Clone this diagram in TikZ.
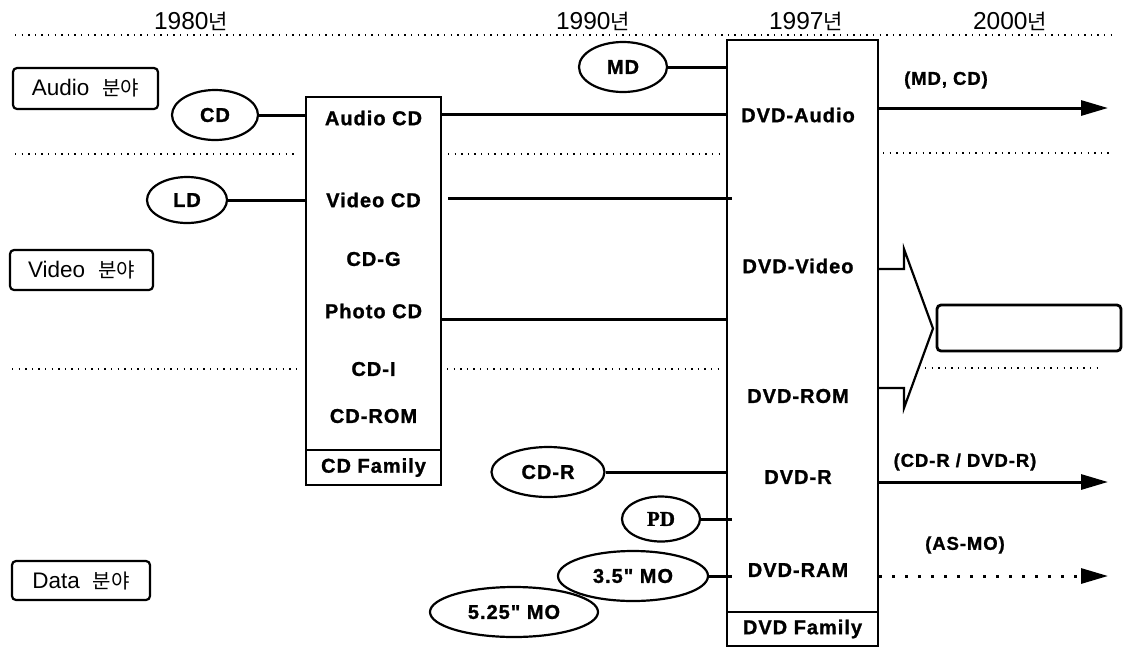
\documentclass[tikz,border=0pt]{standalone}
\usepackage{fontspec}
\setmainfont{Liberation Sans}
\newfontfamily\kr{Noto Sans CJK KR}
\newfontfamily\lbl[LetterSpace=5,BoldFeatures={FakeBold=1.2}]{Liberation Sans}
\newfontfamily\lblserif[BoldFeatures={FakeBold=1.2}]{Liberation Serif}
\usetikzlibrary{shapes.geometric,arrows.meta,calc}
\tikzset{
  sep/.style={line width=1.4pt, dash pattern=on 1.4pt off 5.2pt},
  conn/.style={line width=3pt},
  frame/.style={draw, line width=2.2pt, inner sep=0pt},
  disc/.style={ellipse, draw, line width=2.2pt, inner sep=0pt, font=\lbl\bfseries\fontsize{20}{22}\selectfont},
  item/.style={font=\lbl\bfseries\fontsize{20}{22}\selectfont, inner sep=0pt},
  field/.style={draw, rounded corners=4pt, line width=2.2pt, inner sep=0pt, font=\fontsize{22.5}{24}\selectfont},
  year/.style={font=\fontsize{24.5}{26}\selectfont, inner sep=0pt},
  trend/.style={line width=3pt, -{Triangle[length=27pt,width=15pt]}},
  trendlbl/.style={font=\lbl\bfseries\fontsize{18.5}{22}\selectfont, inner sep=0pt},
}
\newcommand{\fieldtxt}[1]{#1\hspace{13pt}{\kr\fontsize{20}{24}\selectfont 분야}}
\newcommand{\yr}[1]{#1{\kr\fontsize{21}{24}\selectfont 년}}
\begin{document}
\begin{tikzpicture}[x=1pt,y=-1pt]
\useasboundingbox (0,0) rectangle (1125,649);

% year labels
\node[year] (y80) at (191,21) {\yr{1980}};
\node[year] (y90) at (593,21) {\yr{1990}};
\node[year] (y97) at (806,21) {\yr{1997}};
\node[year] (y00) at (1010,21) {\yr{2000}};

% separators
\draw[sep] (15,35) -- (1113,35);
\draw[sep] (15,154) -- (298,154);
\draw[sep] (448,154) -- (723,154);
\draw[sep] (883,153) -- (1110,153);
\draw[sep] (12,369) -- (300,369);
\draw[sep] (447,369) -- (723,369);
\draw[sep] (925,368) -- (1103,368);

% field boxes
\node[field, minimum width=145pt, minimum height=41pt] (faudio) at (85.5,88.5) {\fieldtxt{Audio}};
\node[field, minimum width=143pt, minimum height=40pt] (fvideo) at (81.5,270) {\fieldtxt{Video}};
\node[field, minimum width=138pt, minimum height=39pt] (fdata) at (81,580.5) {\fieldtxt{Data}};

% CD family
\node[frame, minimum width=135pt, minimum height=353pt] (cdbox) at (373.5,273.5) {};
\node[frame, item, minimum width=135pt, minimum height=35pt] (cdfam) at (373.5,467.5) {CD Family};
\node[item] (acd) at (373.5,118) {Audio CD};
\node[item] (vcd) at (373.5,200) {Video CD};
\node[item] (cdg) at (373.5,259) {CD-G};
\node[item] (pcd) at (373.5,311) {Photo CD};
\node[item] (cdi) at (373.5,369) {CD-I};
\node[item] (cdrom) at (373.5,416) {CD-ROM};

% DVD family
\node[frame, minimum width=151pt, minimum height=572pt] (dvdbox) at (802.5,326) {};
\node[frame, item, minimum width=151pt, minimum height=34pt] (dvdfam) at (802.5,629) {DVD Family};
\node[item] (dvda) at (798,115) {DVD-Audio};
\node[item] (dvdv) at (798,266) {DVD-Video};
\node[item] (dvdrom) at (798,396) {DVD-ROM};
\node[item] (dvdr) at (798,477) {DVD-R};
\node[item] (dvdram) at (798,570) {DVD-RAM};

% discs
\node[disc, minimum width=86pt, minimum height=50pt] (cd) at (215,115) {CD};
\node[disc, minimum width=80pt, minimum height=46pt] (ld) at (187,200) {LD};
\node[disc, minimum width=88pt, minimum height=50pt] (md) at (623,67) {MD};
\node[disc, minimum width=113pt, minimum height=50pt] (cdr) at (548,472) {CD-R};
\node[disc, minimum width=78pt, minimum height=45pt, font=\lblserif\bfseries\fontsize{21}{22}\selectfont] (pd) at (661,519) {PD};
\node[disc, minimum width=150pt, minimum height=50pt] (mo35) at (633,576) {3.5" MO};
\node[disc, minimum width=168pt, minimum height=50pt] (mo525) at (514,612) {5.25" MO};

% level coordinates
\coordinate (ya) at (0,114);
\coordinate (yv) at (0,198);
\coordinate (yp) at (0,319);
\coordinate (sTop) at (0,269);
\coordinate (sBot) at (0,388);

% connectors
\draw[conn] (cd.east) -- (cd.east -| cdbox.west);
\draw[conn] (ld.east) -- (ld.east -| cdbox.west);
\draw[conn] (md.east) -- (md.east -| dvdbox.west);
\draw[conn] (cdbox.east |- ya) -- (dvdbox.west |- ya);
\draw[conn] ($(cdbox.east |- yv)+(6,0)$) -- ($(dvdbox.west |- yv)+(6,0)$);
\draw[conn] (cdbox.east |- yp) -- (dvdbox.west |- yp);
\draw[conn] (cdr.east) -- (cdr.east -| dvdbox.west);
\draw[conn] (pd.east) -- ($(pd.east -| dvdbox.west)+(6,0)$);
\draw[conn] (mo35.east) -- ($(mo35.east -| dvdbox.west)+(6,0)$);

% trend arrows
\coordinate (e1) at (1108,108);
\coordinate (e2) at (1108,482);
\coordinate (e3) at (1108,576);
\draw[trend] (dvdbox.east |- e1) -- (e1);
\draw[trend] (dvdbox.east |- e2) -- (e2);
\draw[trend, dash pattern=on 3pt off 10pt] (dvdbox.east |- e3) -- (e3);
\node[trendlbl] (t1) at (946,80) {(MD, CD)};
\node[trendlbl] (t2) at (965,462) {(CD-R / DVD-R)};
\node[trendlbl] (t3) at (965,545) {(AS-MO)};

% big arrow and target box
\draw[line width=2.2pt, line join=miter] (dvdbox.east |- sTop) -- (904,269) -- (904,249) -- (933,328.5) -- (904,408) -- (904,388) -- (dvdbox.east |- sBot);
\node[draw, rounded corners=4pt, line width=2.8pt, minimum width=184pt, minimum height=46pt, inner sep=0pt] (goal) at (1029,328) {};
\end{tikzpicture}
\end{document}
